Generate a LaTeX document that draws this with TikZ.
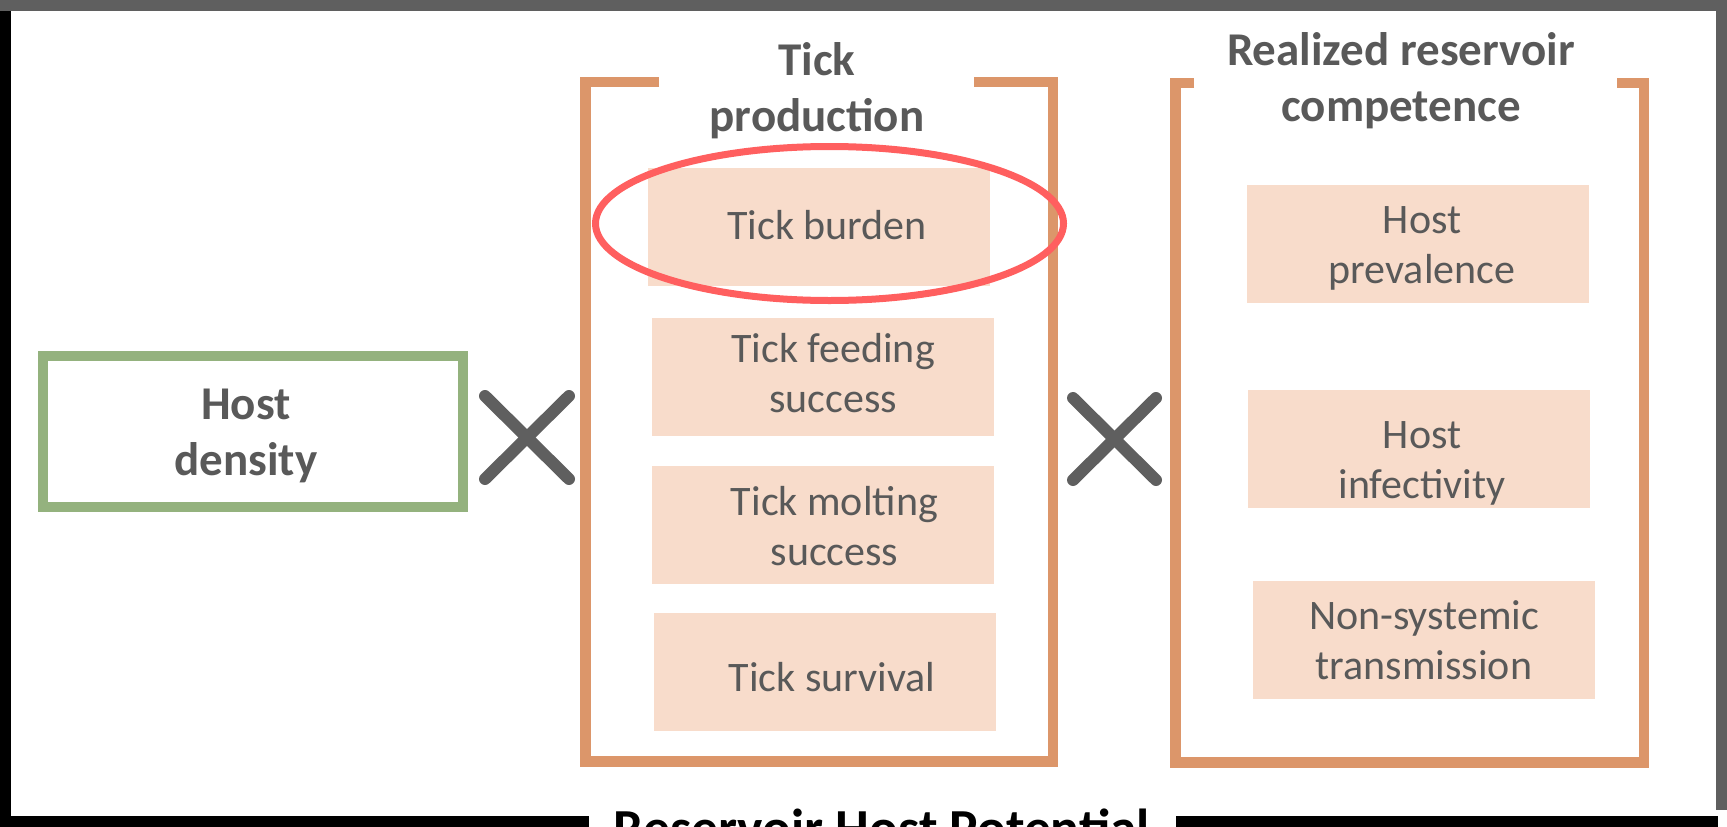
\documentclass[tikz,border=0pt]{standalone}
\usepackage{fontspec}
\setmainfont{Carlito}
\usetikzlibrary{shapes.geometric}
\definecolor{peach}{HTML}{F8DCCB}
\definecolor{orangeline}{HTML}{DC966A}
\definecolor{greenline}{HTML}{94B27E}
\definecolor{redline}{HTML}{FF5F5F}
\definecolor{txtgray}{HTML}{595959}
\definecolor{xgray}{HTML}{5F5F5F}
\begin{document}
\begin{tikzpicture}[x=1pt,y=-1pt,
  pbox/.style={fill=peach,draw=none,inner sep=0pt,minimum width=342pt,minimum height=118pt},
  ptxt/.style={text=txtgray,align=center,inner sep=0pt,font=\fontsize{42}{50}\selectfont},
  htxt/.style={text=txtgray,align=center,inner sep=0pt,font=\fontsize{47}{56}\selectfont\bfseries},
  bracket/.style={draw=orangeline,line width=10.5pt},
  xmark/.style={draw=xgray,line width=12pt,line cap=round},
  hl/.style={ellipse,draw=redline,line width=7pt,inner sep=0pt,minimum width=468pt,minimum height=154pt}]
\useasboundingbox (0,0) rectangle (1727,827);
\clip (0,0) rectangle (1727,827);
% outer frame
\fill[xgray] (0,0) rectangle (1727,11);
\fill[black] (0,11) rectangle (11,827);
\fill[xgray] (1716,0) rectangle (1727,810);
\fill[black] (0,816) rectangle (589,827);
\fill[black] (1176,816) rectangle (1718,827);
\node[anchor=base,inner sep=0pt,font=\fontsize{53.5}{60}\selectfont\bfseries] (title) at (882,846.5) {Reservoir Host Potential};
% host density
\node[draw=greenline,line width=10pt,minimum width=420pt,minimum height=151pt,inner sep=0pt] (hdbox) at (253,431.5) {};
\node[htxt] (hd) at (246,436) {Host\\density};
% multiplication signs
\coordinate (x1) at (527,437.5);
\coordinate (x2) at (1114.5,439);
\draw[xmark] ([shift={(-42,-41.5)}]x1) -- ([shift={(42,41.5)}]x1);
\draw[xmark] ([shift={(-42,41.5)}]x1) -- ([shift={(42,-41.5)}]x1);
\draw[xmark] ([shift={(-41.5,-41)}]x2) -- ([shift={(41.5,41)}]x2);
\draw[xmark] ([shift={(-41.5,41)}]x2) -- ([shift={(41.5,-41)}]x2);
% tick production group
\draw[bracket] (659,82) -- (585.5,82) -- (585.5,761.5) -- (1053,761.5) -- (1053,82) -- (974,82);
\node[htxt] (tp) at (817,90.75) {Tick\\production};
\node[pbox] (b1) at (819,226.5) {};
\node[pbox] (b2) at (823,377) {};
\node[pbox] (b3) at (823,525) {};
\node[pbox] (b4) at (825,672) {};
\node[ptxt] (t1) at (827,225.3) {Tick burden};
\node[ptxt] (t2) at (833,373.3) {Tick feeding\\success};
\node[ptxt] (t3) at (834.5,526.3) {Tick molting\\success};
\node[ptxt] (t4) at (832,677.3) {Tick survival};
\node[hl] (hlt) at (829.5,223.5) {};
% realized reservoir competence group
\draw[bracket] (1194,83) -- (1175.5,83) -- (1175.5,762.5) -- (1644,762.5) -- (1644,83) -- (1617,83);
\node[htxt] (rc) at (1401,80.75) {Realized reservoir\\competence};
\node[pbox] (b5) at (1417.5,244) {};
\node[pbox] (b6) at (1419,449) {};
\node[pbox] (b7) at (1424,640) {};
\node[ptxt] (t5) at (1422,248.9) {Host\\prevalence};
\node[ptxt] (t6) at (1422,463.9) {Host\\infectivity};
\node[ptxt] (t7) at (1424,640.2) {Non-systemic\\transmission};
\end{tikzpicture}
\end{document}
